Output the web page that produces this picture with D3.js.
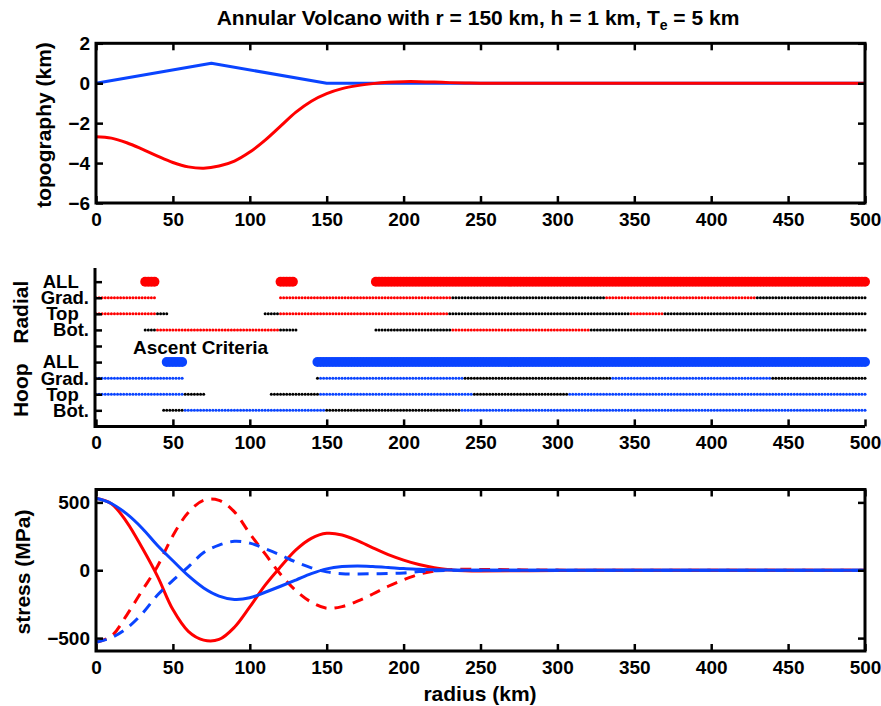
<!DOCTYPE html>
<html><head><meta charset="utf-8">
<script src="https://cdn.jsdelivr.net/npm/d3@7"></script>
<style>
body{margin:0;background:#fff}
svg{display:block}
text{font-family:"Liberation Sans",Arial,Helvetica,sans-serif;font-weight:bold;fill:#000}
</style>
</head><body><svg id="c" width="881" height="706"></svg>
<script>
// ---------- data ----------
const xTicks = [0,50,100,150,200,250,300,350,400,450,500];
const topoTicks = [-6,-4,-2,0,2];
const stressTicks = [-500,0,500];
const titleMain = "Annular Volcano with r = 150 km, h = 1 km, T";
const titleSub = "e";
const titleEnd = " = 5 km";

// topography panel
const topoR = [0,75,150,500];
const topoH = [0,1,0,0];
const radii = [0,10,20,30,40,50,60,70,80,90,100,110,120,130,140,150,160,170,180,190,200,210,220,230,240,250,300,350,400,450,500];
const deflection = [-2.68,-2.75,-2.98,-3.30,-3.65,-3.97,-4.19,-4.26,-4.15,-3.90,-3.45,-2.85,-2.15,-1.45,-0.90,-0.52,-0.27,-0.12,-0.02,0.05,0.08,0.08,0.06,0.03,0.01,0,0,0,0,0,0];

// stress panel (MPa)
const radialTop = [530,490,355,165,-45,-290,-450,-515,-510,-420,-270,-110,25,150,235,272,260,218,165,115,75,42,18,4,-4,-6,-1,0,0,0,0];
const radialBot = [-530,-485,-330,-150,30,255,425,515,515,430,270,120,-30,-150,-235,-280,-268,-228,-175,-118,-70,-30,-6,4,7,6,1,0,0,0,0];
const hoopTop = [530,492,415,310,183,70,-40,-130,-190,-215,-203,-162,-118,-72,-25,10,27,31,27,20,12,7,3,1,0,0,0,0,0,0,0];
const hoopBot = [-530,-497,-428,-320,-183,-75,25,130,185,213,200,158,112,60,18,-12,-25,-27,-26,-24,-20,-10,-4,0,0,0,0,0,0,0,0];

// ascent criteria panel: runs [from km, to km, met(1)/not(0)]
const rowLevels = [1,2,3,4,5,6,7,8,9];
const rowLabels = {1:"Bot.",2:"Top\u00a0\u00a0",3:"Grad.",4:"ALL\u00a0\u00a0",6:"Bot.",7:"Top\u00a0\u00a0",8:"Grad.",9:"ALL\u00a0\u00a0"};
const radialAll = [[32,38],[120,128],[182,500]];
const hoopAll = [[46,56],[144,500]];
const radialGrad = [[0,38,1],[120,230,1],[232,330,0],[332,428,1],[430,500,0]];
const radialTopRuns = [[0,38,1],[40,46,0],[110,118,0],[120,228,1],[230,346,0],[348,368,1],[370,500,0]];
const radialBotRuns = [[32,38,0],[40,118,1],[120,130,0],[182,230,0],[232,320,1],[322,500,0]];
const hoopGrad = [[0,56,1],[144,144,0],[146,238,1],[240,334,0],[336,438,1],[440,500,0]];
const hoopTopRuns = [[0,56,1],[58,70,0],[114,144,0],[146,244,1],[246,306,0],[308,500,1]];
const hoopBotRuns = [[44,56,0],[58,148,1],[150,236,0],[238,500,1]];
const sampleStep = 2; // km between markers

// ---------- drawing ----------
const RED = "#ff0000", BLUE = "#0a44ff";
const svg = d3.select("#c");
const x = d3.scaleLinear().domain([0,500]).range([96,865]);
const yT = d3.scaleLinear().domain([-6,2]).range([203,43.3]);
const yM = d3.scaleLinear().domain([0,9.85]).range([426.4,268]);
const yB = d3.scaleLinear().domain([-595,595]).range([651,489.5]);
const fmt = d3.format("d");

function styleAxis(g, size){
  g.select(".domain").remove();
  g.selectAll(".tick line").attr("stroke","#000").attr("stroke-width",2.5);
  g.selectAll(".tick text").attr("font-size",size||19).attr("font-family",null).style("fill","#000");
}
function boxAxes(yScale, yTicks, yTop, yBot){
  const g = svg.append("g");
  g.append("g").attr("transform",`translate(0,${yBot})`)
    .call(d3.axisBottom(x).tickValues(xTicks).tickSize(-7).tickPadding(10).tickFormat(fmt)).call(styleAxis);
  g.append("g").attr("transform",`translate(0,${yTop})`)
    .call(d3.axisTop(x).tickValues(xTicks).tickSize(-7).tickFormat("")).call(styleAxis);
  g.append("g").attr("transform",`translate(${x(0)},0)`)
    .call(d3.axisLeft(yScale).tickValues(yTicks).tickSize(-7).tickPadding(6).tickFormat(fmt)).call(styleAxis);
  g.append("g").attr("transform",`translate(${x(500)},0)`)
    .call(d3.axisRight(yScale).tickValues(yTicks).tickSize(-7).tickFormat("")).call(styleAxis);
  g.append("rect").attr("x",x(0)).attr("y",yTop).attr("width",x(500)-x(0)).attr("height",yBot-yTop)
    .attr("fill","none").attr("stroke","#000").attr("stroke-width",3);
}

// title
const title = svg.append("text").attr("x",478).attr("y",25).attr("text-anchor","middle").attr("font-size",21);
title.append("tspan").text(titleMain);
title.append("tspan").attr("dy",5).attr("font-size",14).text(titleSub);
title.append("tspan").attr("dy",-5).text(titleEnd);

// ---- top panel ----
const smooth = d3.curveCatmullRom.alpha(0.5);
svg.append("path").datum(topoR.map((r,i)=>[r,topoH[i]]))
  .attr("d", d3.line().x(d=>x(d[0])).y(d=>yT(d[1])))
  .attr("fill","none").attr("stroke",BLUE).attr("stroke-width",3).attr("stroke-linejoin","round");
svg.append("path").datum(radii.map((r,i)=>[r,deflection[i]]))
  .attr("d", d3.line().x(d=>x(d[0])).y(d=>yT(d[1])).curve(smooth))
  .attr("fill","none").attr("stroke",RED).attr("stroke-width",3);
boxAxes(yT, topoTicks, yT(2), yT(-6));
svg.append("text").attr("transform",`translate(51,125) rotate(-90)`).attr("text-anchor","middle")
  .attr("font-size",21).text("topography (km)");

// ---- middle panel ----
const gm = svg.append("g");
function bigBand(runs, level, color){
  runs.forEach(([a,b])=>{
    gm.selectAll(null).data(d3.range(a,b+0.001,sampleStep)).enter().append("circle")
      .attr("cx",d=>x(d)).attr("cy",yM(level)).attr("r",5).attr("fill",color);
  });
}
function dotRow(runs, level, color){
  runs.forEach(([a,b,met])=>{
    gm.selectAll(null).data(d3.range(a,b+0.001,sampleStep)).enter().append("circle")
      .attr("cx",d=>x(d)).attr("cy",yM(level)).attr("r",1.5).attr("fill",met?color:"#000");
  });
}
bigBand(radialAll, 9, RED);
dotRow(radialGrad, 8, RED);
dotRow(radialTopRuns, 7, RED);
dotRow(radialBotRuns, 6, RED);
bigBand(hoopAll, 4, BLUE);
dotRow(hoopGrad, 3, BLUE);
dotRow(hoopTopRuns, 2, BLUE);
dotRow(hoopBotRuns, 1, BLUE);

svg.append("g").attr("transform",`translate(0,${yM(0)})`)
  .call(d3.axisBottom(x).tickValues(xTicks).tickSize(-7).tickPadding(9).tickFormat(fmt)).call(styleAxis);
svg.append("g").attr("transform",`translate(${x(0)-1},0)`)
  .call(d3.axisLeft(yM).tickValues(rowLevels).tickSize(-7).tickPadding(6).tickFormat(d=>rowLabels[d]||""))
  .call(g=>styleAxis(g,18.5));
svg.append("path").attr("d",`M${x(0)-1},${yM(9.85)}V${yM(0)}H${x(500)}`)
  .attr("fill","none").attr("stroke","#000").attr("stroke-width",3);
svg.append("text").attr("x",133).attr("y",354).attr("font-size",19).text("Ascent Criteria");
svg.append("text").attr("transform",`translate(28,${yM(7.1)}) rotate(-90)`).attr("text-anchor","middle")
  .attr("font-size",21).text("Radial");
svg.append("text").attr("transform",`translate(28,${yM(2.25)}) rotate(-90)`).attr("text-anchor","middle")
  .attr("font-size",21).text("Hoop");

// ---- bottom panel ----
const series = [
  {v:radialTop, c:RED, dash:null},
  {v:radialBot, c:RED, dash:"11,8"},
  {v:hoopTop, c:BLUE, dash:null},
  {v:hoopBot, c:BLUE, dash:"11,8"}
];
series.forEach(s=>{
  svg.append("path").datum(radii.map((r,i)=>[r,s.v[i]]))
    .attr("d", d3.line().x(d=>x(d[0])).y(d=>yB(d[1])).curve(smooth))
    .attr("fill","none").attr("stroke",s.c).attr("stroke-width",3)
    .attr("stroke-dasharray",s.dash);
});
boxAxes(yB, stressTicks, yB(595), yB(-595));
svg.append("text").attr("transform",`translate(30,572) rotate(-90)`).attr("text-anchor","middle")
  .attr("font-size",21).text("stress (MPa)");
svg.append("text").attr("x",480).attr("y",701).attr("text-anchor","middle")
  .attr("font-size",21).text("radius (km)");
</script></body></html>
